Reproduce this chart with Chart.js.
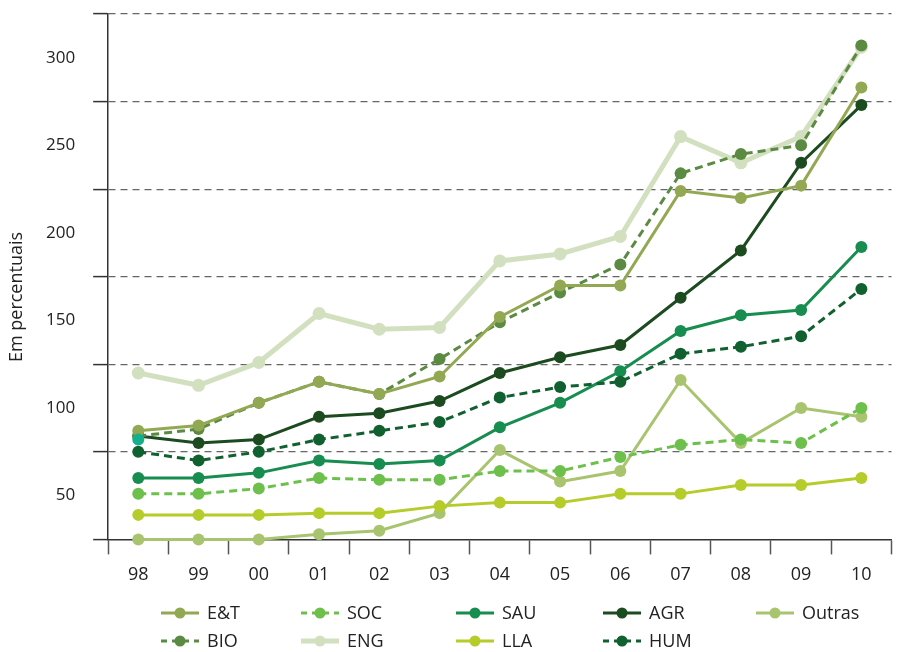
<!DOCTYPE html>
<html>
<head>
<meta charset="utf-8">
<script src="https://cdn.jsdelivr.net/npm/chart.js@4/dist/chart.umd.min.js"></script>
<style>
    body { margin: 0; background: #fff; }
    #wrap { width: 898px; height: 652px; position: relative; }
</style>
</head>
<body>
<div id="wrap"><canvas id="chart"></canvas></div>
<script>
/* ================= DATA ================= */
const years = ['98', '99', '00', '01', '02', '03', '04', '05', '06', '07', '08', '09', '10'];

const serET  = [87, 90, 103, 115, 108, 118, 152, 170, 170, 224, 220, 227, 283];
const serBIO = [84, 88, 103, 115, 108, 128, 149, 166, 182, 234, 245, 250, 307];
const serENG = [120, 113, 126, 154, 145, 146, 184, 188, 198, 255, 240, 255, 306];
const serAGR = [84, 80, 82, 95, 97, 104, 120, 129, 136, 163, 190, 240, 273];
const serHUM = [75, 70, 75, 82, 87, 92, 106, 112, 115, 131, 135, 141, 168];
const serSAU = [60, 60, 63, 70, 68, 70, 89, 103, 121, 144, 153, 156, 192];
const serSOC = [51, 51, 54, 60, 59, 59, 64, 64, 72, 79, 82, 80, 100];
const serLLA = [39, 39, 39, 40, 40, 44, 46, 46, 51, 51, 56, 56, 60];
const serOUT = [25, 25, 25, 28, 30, 40, 76, 58, 64, 116, 80, 100, 95];
// ponto isolado (turquesa) em 98
const serExtra = [82, null, null, null, null, null, null, null, null, null, null, null, null];

const yLabels = [50, 100, 150, 200, 250, 300];
const yGrid = [75, 125, 175, 225, 275, 325];

// ordem da legenda: linha 1 e linha 2
const legendRow1 = ['E&T', 'SOC', 'SAU', 'AGR', 'Outras'];
const legendRow2 = ['BIO', 'ENG', 'LLA', 'HUM'];

/* ================= DATASETS ================= */
function serie(label, data, color, opts) {
    return Object.assign({
        label: label,
        data: data,
        borderColor: color,
        backgroundColor: color,
        pointBackgroundColor: color,
        pointBorderWidth: 0,
        pointRadius: 6,
        pointHoverRadius: 6,
        borderWidth: 3,
        tension: 0,
        clip: false
    }, opts || {});
}

const datasets = [
    serie('E&T', serET, '#92a852', { order: 2 }),
    serie('BIO', serBIO, '#5b8a42', { order: 3, borderDash: [8, 5] }),
    serie('SOC', serSOC, '#6cc04b', { order: 7, borderDash: [8, 5] }),
    serie('ENG', serENG, '#d3e0c0', { order: 10, borderWidth: 5, pointRadius: 6.5 }),
    serie('SAU', serSAU, '#178d4f', { order: 6 }),
    serie('LLA', serLLA, '#b6cc2a', { order: 8 }),
    serie('AGR', serAGR, '#1d4b20', { order: 4 }),
    serie('HUM', serHUM, '#11602f', { order: 5, borderDash: [8, 5] }),
    serie('Outras', serOUT, '#a9c46f', { order: 9 }),
    serie('extra', serExtra, '#14b08e', { order: 1, showLine: false })
];

/* ================= PLUGINS ================= */
const yTitlePlugin = {
    id: 'yTitle',
    afterDraw(chart) {
        const ctx = chart.ctx;
        ctx.save();
        ctx.translate(17, 297);
        ctx.rotate(-Math.PI / 2);
        ctx.font = "18px 'Open Sans'";
        ctx.fillStyle = '#222';
        ctx.textAlign = 'center';
        ctx.textBaseline = 'middle';
        ctx.fillText('Em percentuais', 0, 0);
        ctx.restore();
    }
};

const gridLegendPlugin = {
    id: 'gridLegend',
    afterDraw(chart) {
        const ctx = chart.ctx;
        const colX = [161, 301, 456, 603, 756];
        const rowY = [613, 641];
        const sampleW = 38;
        [legendRow1, legendRow2].forEach((row, r) => {
            row.forEach((name, c) => {
                const ds = chart.data.datasets.find(d => d.label === name);
                const x = colX[c], y = rowY[r];
                ctx.save();
                ctx.strokeStyle = ds.borderColor;
                ctx.lineWidth = ds.borderWidth;
                ctx.setLineDash(ds.borderDash ? [6, 5] : []);
                ctx.beginPath();
                ctx.moveTo(x, y);
                ctx.lineTo(x + sampleW, y);
                ctx.stroke();
                ctx.setLineDash([]);
                ctx.fillStyle = ds.borderColor;
                ctx.beginPath();
                ctx.arc(x + sampleW / 2, y, 5.5, 0, Math.PI * 2);
                ctx.fill();
                ctx.font = "18px 'Open Sans'";
                ctx.fillStyle = '#222';
                ctx.textBaseline = 'middle';
                ctx.fillText(name, x + sampleW + 8, y + 1);
                ctx.restore();
            });
        });
    }
};

/* ================= CHART ================= */
Chart.defaults.font.family = "'Open Sans', sans-serif";
Chart.defaults.color = '#222';

new Chart(document.getElementById('chart'), {
    type: 'line',
    data: { labels: years, datasets: datasets },
    options: {
        responsive: true,
        maintainAspectRatio: false,
        animation: false,
        layout: { padding: { left: 28, right: 0, top: 14, bottom: 56 } },
        plugins: {
            legend: { display: false },
            tooltip: { enabled: false }
        },
        scales: {
            x: {
                offset: true,
                grid: {
                    offset: true,
                    drawOnChartArea: false,
                    color: '#555',
                    tickColor: '#555',
                    tickLength: 15,
                    tickWidth: 1.5
                },
                border: { color: '#333', width: 1.5 },
                ticks: { font: { size: 18 }, padding: 10, color: '#222', autoSkip: false, maxRotation: 0 }
            },
            y: {
                min: 25,
                max: 325,
                afterFit: scale => { scale.paddingTop = 0; },
                grid: {
                    color: c => (c.tick && yGrid.includes(c.tick.value)) ? '#666' : 'transparent',
                    tickColor: c => (c.tick && (c.tick.value === 25 || yGrid.includes(c.tick.value))) ? '#333' : 'transparent',
                    tickLength: 15,
                    tickWidth: 1.5,
                    tickBorderDash: [],
                    lineWidth: 1.2
                },
                border: { color: '#333', width: 1.5, dash: [7, 5] },
                ticks: {
                    stepSize: 25,
                    autoSkip: false,
                    padding: 18,
                    font: { size: 17 },
                    color: '#222',
                    callback: v => yLabels.includes(v) ? String(v) : ''
                }
            }
        }
    },
    plugins: [yTitlePlugin, gridLegendPlugin]
});
</script>
</body>
</html>
